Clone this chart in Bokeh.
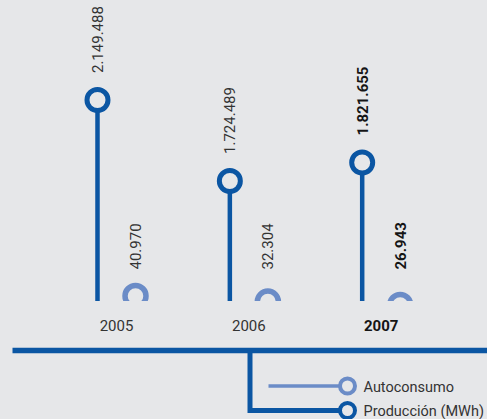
from math import pi
from bokeh.plotting import figure
from bokeh.models import ColumnDataSource, Range1d
from bokeh.transform import dodge
from bokeh.layouts import column
from bokeh.embed import file_html
from bokeh.resources import INLINE
from bokeh.core.properties import value, field

# ---------------- data ----------------
years = [2005, 2006, 2007]
year_labels = ["2005", "2006", "2007"]
produccion = [2149488, 1724489, 1821655]
autoconsumo = [40970, 32304, 26943]
produccion_labels = ["2.149.488", "1.724.489", "1.821.655"]
autoconsumo_labels = ["40.970", "32.304", "26.943"]
highlight_year = 2007
legend_labels = ["Autoconsumo", "Producción (MWh)"]

# ---------------- style ----------------
BG = "#e6e7e9"
DARK = "#0b56a3"
LIGHT = "#6b8cc7"
TXT = "#333333"
TXT_B = "#151515"
FONT = "Roboto"

W, H_TOP, H_BOT = 487, 301, 118
DX = 0.1436  # half distance between the two stems of a year
PROD_RANGE = (1091800, 2672000)
AUTO_RANGE = (32325, 497070)

styles = ["bold" if y == highlight_year else "normal" for y in years]
tcolors = [TXT_B if y == highlight_year else TXT for y in years]

src = ColumnDataSource(dict(
    year=years, ylab=year_labels, prod=produccion, auto=autoconsumo,
    plab=produccion_labels, alab=autoconsumo_labels,
    style=styles, tcol=tcolors,
))

x_range = Range1d(2004.1235, 2007.8032)

common = dict(output_backend="svg", toolbar_location=None,
              x_axis_location=None, y_axis_location=None, min_border=0,
              background_fill_color=BG, border_fill_color=BG,
              outline_line_color=None)

# ---------------- top: lollipops ----------------
top = figure(width=W, height=H_TOP, x_range=x_range,
             y_range=Range1d(*PROD_RANGE), **common)
top.grid.visible = False
top.extra_y_ranges = {"auto": Range1d(*AUTO_RANGE)}

# produccion stems + heads
top.segment(x0=dodge("year", -DX), y0=0, x1=dodge("year", -DX), y1="prod",
            source=src, line_color=DARK, line_width=4.5)
top.scatter(x=dodge("year", -DX), y="prod", source=src, marker="circle",
            size=21, line_width=5, line_color=DARK, fill_color=BG)
# autoconsumo heads (clipped at the baseline)
top.scatter(x=dodge("year", DX), y="auto", y_range_name="auto", source=src,
            marker="circle", size=21, line_width=5.5, line_color=LIGHT,
            fill_color=BG)

# value labels
top.text(x=dodge("year", -DX), y="prod", text="plab", source=src,
         angle=pi / 2, text_align="left", text_baseline="middle",
         y_offset=-27, text_font=value(FONT), text_font_size="15px",
         text_font_style=field("style"), text_color=field("tcol"))
top.text(x=dodge("year", DX), y=AUTO_RANGE[0], y_range_name="auto",
         text="alab", source=src, angle=pi / 2, text_align="left",
         text_baseline="middle", y_offset=-32, text_font=value(FONT),
         text_font_size="15px", text_font_style=field("style"),
         text_color=field("tcol"))

# ---------------- bottom: year labels, rule, legend ----------------
bot = figure(width=W, height=H_BOT, x_range=x_range,
             y_range=Range1d(419, 301), **common)
bot.grid.visible = False
bot.extra_x_ranges = {"px": Range1d(0, 487)}

bot.text(x="year", y=325, text="ylab", source=src, text_align="center",
         text_baseline="middle", text_font=value(FONT), text_font_size="15px",
         text_font_style=field("style"), text_color=field("tcol"))

bot.segment(x0=12, y0=350, x1=495, y1=350, x_range_name="px",
            line_color=DARK, line_width=5.5)

bot.line(x=[249.5, 249.5, 347], y=[350, 410, 410], x_range_name="px",
         line_color=DARK, line_width=5, line_join="miter")
bot.segment(x0=268, y0=385.5, x1=347, y1=385.5, x_range_name="px",
            line_color=LIGHT, line_width=3.5)
bot.scatter(x=[347, 347], y=[385.5, 410], x_range_name="px", marker="circle",
            size=15, line_width=4, line_color=[LIGHT, DARK], fill_color=BG)
bot.text(x=[363, 363], y=[386.5, 411], text=legend_labels, x_range_name="px",
         text_align="left", text_baseline="middle", text_font=value(FONT),
         text_font_size="14.5px", text_color=TXT)

layout = column(top, bot, spacing=0)

html = file_html(layout, INLINE)
html = html.replace("</head>",
                    "<style>html,body{background-color:#e6e7e9;}</style></head>", 1)
open("out.html", "w").write(html)
